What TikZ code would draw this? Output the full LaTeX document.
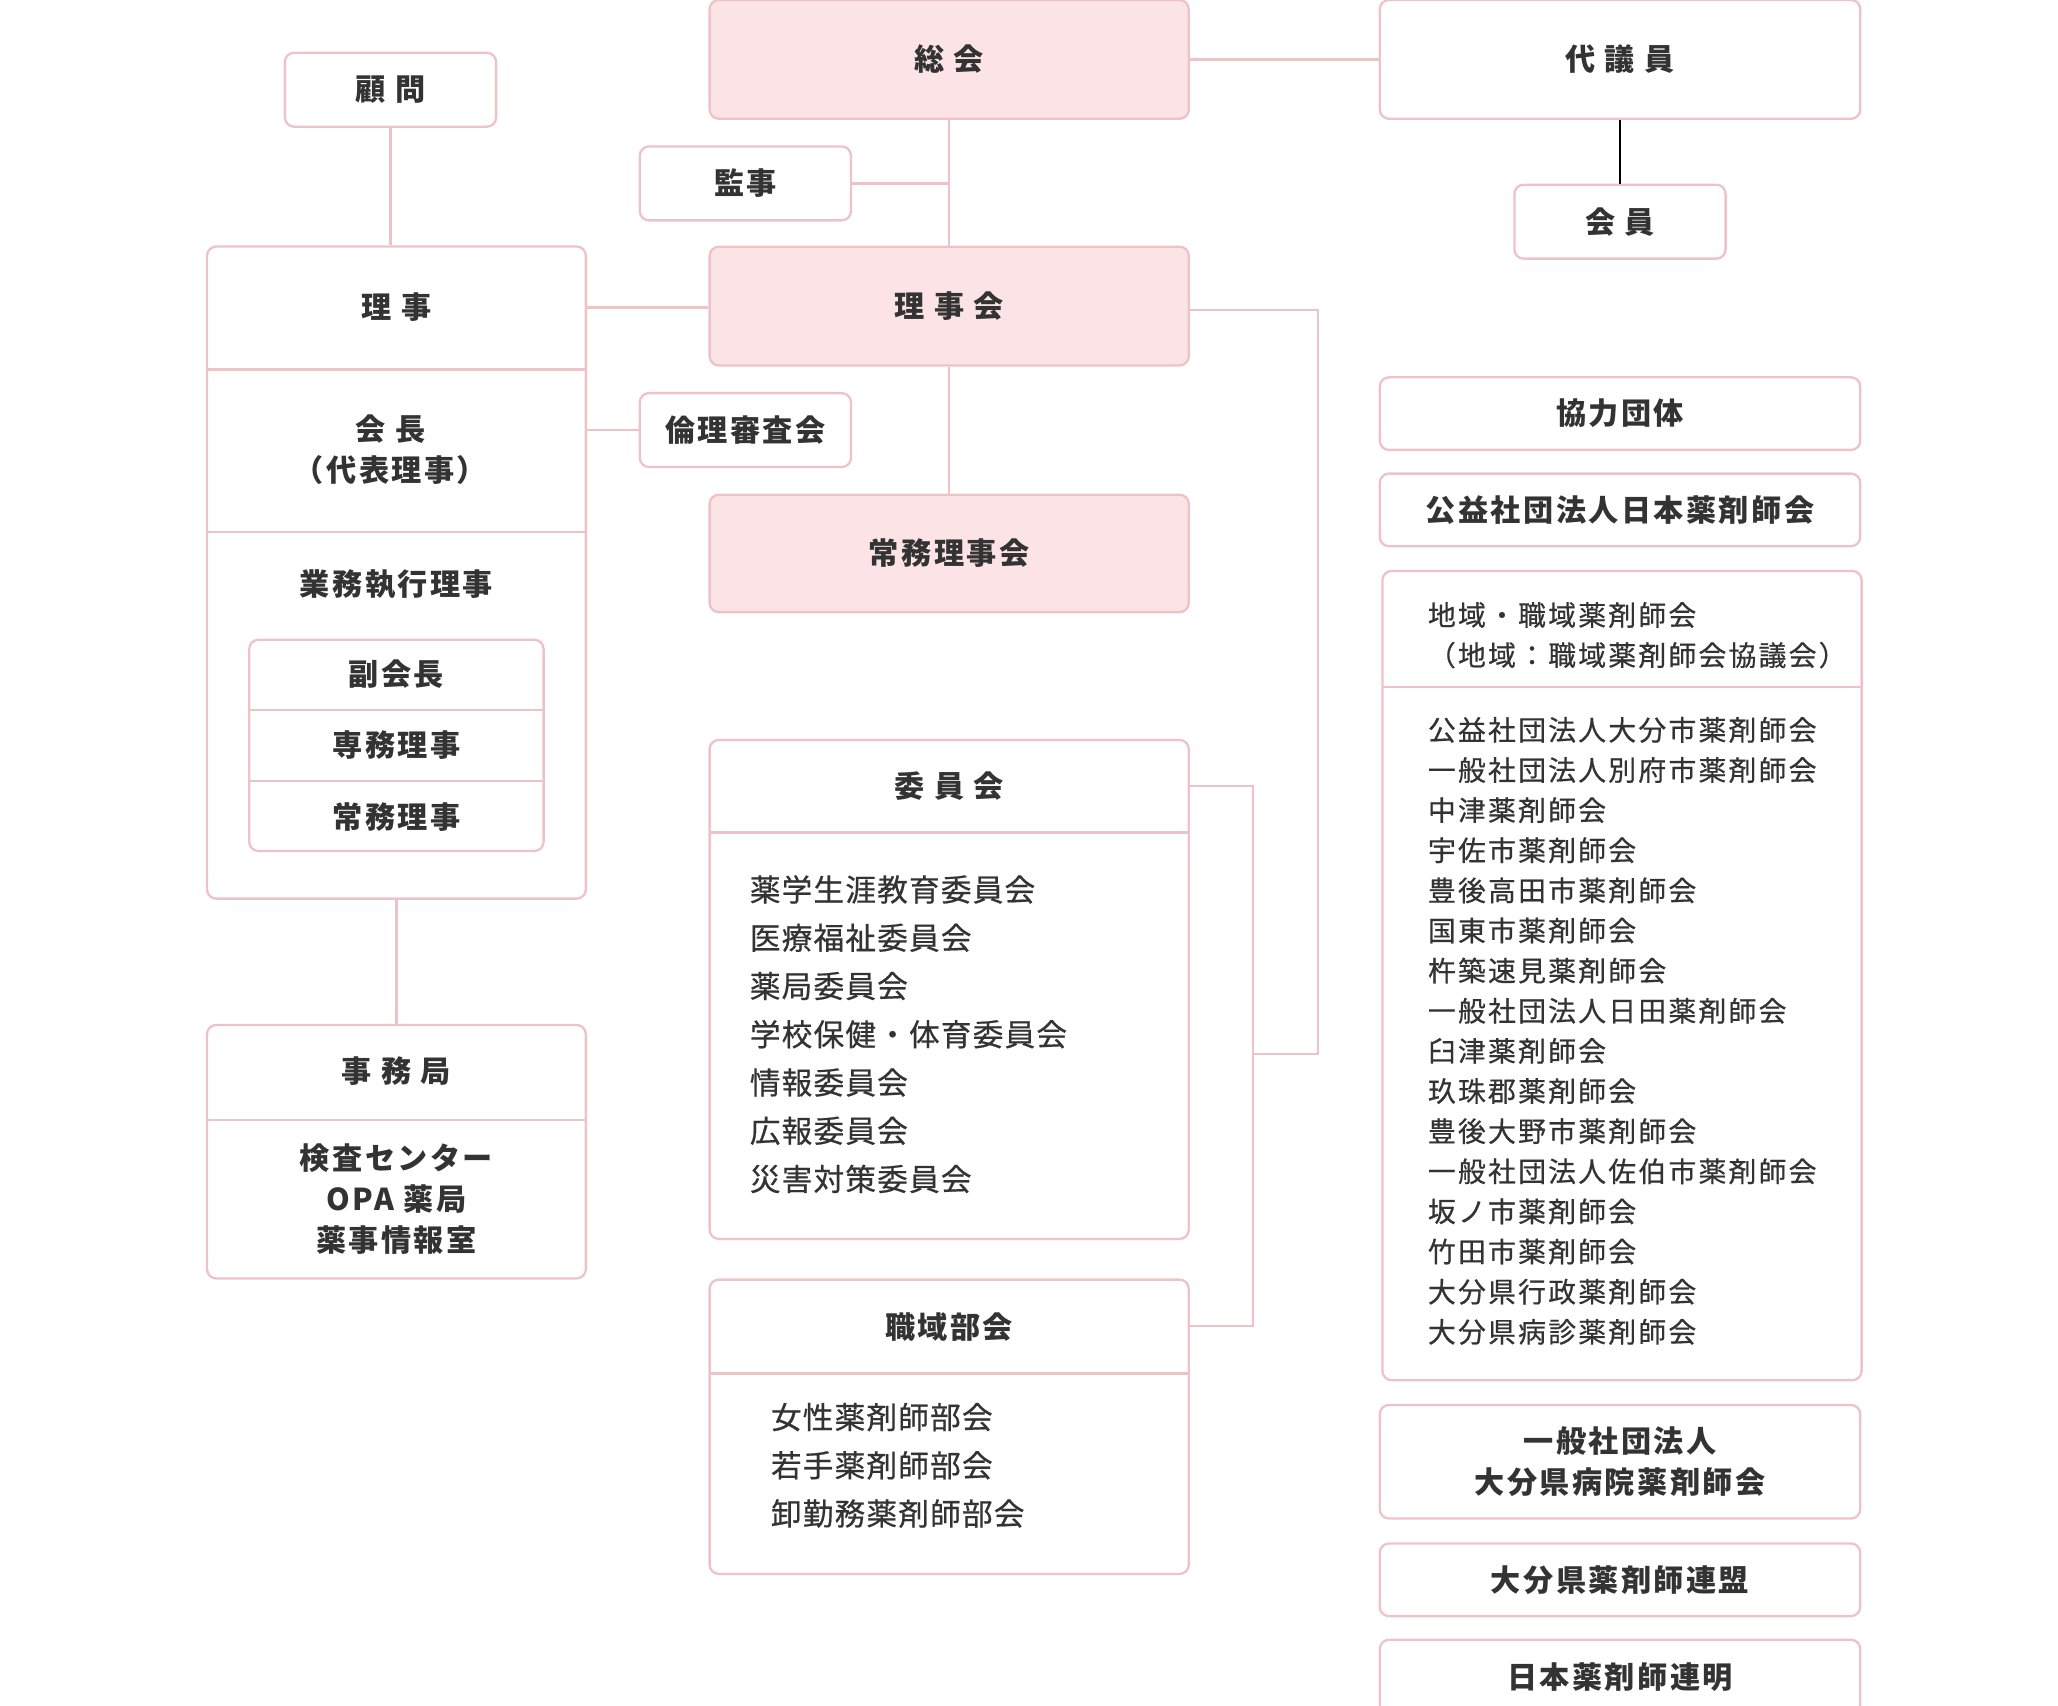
\documentclass[tikz,border=0pt]{standalone}
\usepackage{fontspec}
\setmainfont{Noto Sans CJK JP}
\usetikzlibrary{positioning}
\definecolor{pinkline}{HTML}{EEC3C7}
\definecolor{pinkfill}{HTML}{FCE3E5}
\definecolor{ink}{HTML}{333333}
\tikzset{
  box/.style={rectangle, draw=pinkline, rounded corners=0.07cm, line width=0.5pt, inner sep=0pt},
  mainbox/.style={box, fill=pinkfill},
  lbl/.style={text=ink, font=\fontsize{6.5}{8.8}\selectfont\bfseries\addfontfeature{LetterSpace=8}, align=center},
  listlbl/.style={text=ink, font=\fontsize{6.6}{10.4}\selectfont\addfontfeature{LetterSpace=4,FakeBold=0.6}, align=left},
  smalllist/.style={text=ink, font=\fontsize{6.0}{8.65}\selectfont\addfontfeature{LetterSpace=8,FakeBold=0.6}, align=left},
  link/.style={draw=pinkline, line width=0.5pt},
}
\begin{document}
\begin{tikzpicture}[x=0.01cm, y=-0.01cm]
\useasboundingbox (0,0) rectangle (1560,1293);
% center column
\node[mainbox, minimum width=3.63cm, minimum height=0.9cm] (sokai) at (719.5,45) {};
\node[lbl] at (sokai) {総 会};
\node[box, minimum width=1.6cm, minimum height=0.56cm] (kanji) at (565,139) {};
\node[lbl] at (kanji) {監事};
\node[mainbox, minimum width=3.63cm, minimum height=0.9cm] (rijikai) at (719.5,232) {};
\node[lbl] at (rijikai) {理 事 会};
\node[box, minimum width=1.6cm, minimum height=0.56cm] (rinri) at (565,326) {};
\node[lbl] at (rinri) {倫理審査会};
\node[mainbox, minimum width=3.63cm, minimum height=0.89cm] (jomu) at (719.5,419.5) {};
\node[lbl] at (jomu) {常務理事会};
\node[box, minimum width=3.63cm, minimum height=3.78cm] (iinkai) at (719.5,750) {};
\node[lbl] at (719.5,596) {委 員 会};
\node[listlbl, anchor=north west] at (556,651) {薬学生涯教育委員会\\医療福祉委員会\\薬局委員会\\学校保健・体育委員会\\情報委員会\\広報委員会\\災害対策委員会};
\node[box, minimum width=3.63cm, minimum height=2.23cm] (shokuiki) at (719.5,1081.5) {};
\node[lbl] at (719.5,1006) {職域部会};
\node[listlbl, anchor=north west] at (572,1051) {女性薬剤師部会\\若手薬剤師部会\\卸勤務薬剤師部会};
\draw[link] (538,631) -- (901,631);
\draw[link] (538,1041) -- (901,1041);
% left column
\node[box, minimum width=1.6cm, minimum height=0.56cm] (komon) at (296,68) {};
\node[lbl] at (komon) {顧 問};
\node[box, minimum width=2.87cm, minimum height=4.94cm] (rijibox) at (300.5,434) {};
\node[lbl] (riji) at (300.5,233) {理 事};
\node[lbl] at (296,341) {会 長\\（代表理事）};
\node[lbl] at (300.5,443) {業務執行理事};
\node[box, minimum width=2.23cm, minimum height=1.6cm] (fuku) at (300.5,565) {};
\node[lbl] at (300.5,511) {副会長};
\node[lbl] at (300.5,565) {専務理事};
\node[lbl] at (300.5,619) {常務理事};
\draw[link] (157,280) -- (444,280);
\draw[link] (157,403) -- (444,403);
\draw[link] (189,538) -- (412,538);
\draw[link] (189,592) -- (412,592);
\node[box, minimum width=2.87cm, minimum height=1.92cm] (jimukyoku) at (300.5,873) {};
\node[lbl] at (300.5,812) {事 務 局};
\node[lbl] at (300.5,909) {検査センター\\OPA 薬局\\薬事情報室};
\draw[link] (157,849) -- (444,849);
% right column
\node[box, minimum width=3.64cm, minimum height=0.9cm] (daigiin) at (1228,45) {};
\node[lbl] at (daigiin) {代 議 員};
\node[box, minimum width=1.6cm, minimum height=0.56cm] (kaiin) at (1228,168) {};
\node[lbl] at (kaiin) {会 員};
\node[box, minimum width=3.64cm, minimum height=0.55cm] (kyoryoku) at (1228,313.5) {};
\node[lbl] at (kyoryoku) {協力団体};
\node[box, minimum width=3.64cm, minimum height=0.55cm] (nichiyaku) at (1228,386.5) {};
\node[lbl] at (nichiyaku) {公益社団法人日本薬剤師会};
\node[box, minimum width=3.63cm, minimum height=6.13cm] (chiiki) at (1229.5,739.5) {};
\node[smalllist, anchor=north west] at (1070,444) {地域・職域薬剤師会\\（地域：職域薬剤師会協議会）};
\node[smalllist, anchor=north west] at (1070,531) {公益社団法人大分市薬剤師会\\一般社団法人別府市薬剤師会\\中津薬剤師会\\宇佐市薬剤師会\\豊後高田市薬剤師会\\国東市薬剤師会\\杵築速見薬剤師会\\一般社団法人日田薬剤師会\\臼津薬剤師会\\玖珠郡薬剤師会\\豊後大野市薬剤師会\\一般社団法人佐伯市薬剤師会\\坂ノ市薬剤師会\\竹田市薬剤師会\\大分県行政薬剤師会\\大分県病診薬剤師会};
\draw[link] (1048,521) -- (1411,521);
\node[box, minimum width=3.64cm, minimum height=0.86cm] (byoin) at (1228,1108) {};
\node[lbl] at (byoin) {一般社団法人\\大分県病院薬剤師会};
\node[box, minimum width=3.64cm, minimum height=0.55cm] (renmei) at (1228,1197.5) {};
\node[lbl] at (renmei) {大分県薬剤師連盟};
\node[box, minimum width=3.64cm, minimum height=0.56cm] (nichirenmei) at (1228,1271) {};
\node[lbl] at (nichirenmei) {日本薬剤師連明};
% connectors
\coordinate (kj) at (719,139);
\coordinate (rn) at (444,326);
\coordinate (ra) at (999,235);
\coordinate (rb) at (999,799);
\coordinate (rc) at (950,799);
\coordinate (ia) at (950,596);
\coordinate (ib) at (950,1005);
\draw[link] (sokai) -- (daigiin);
\draw[black, line width=0.6pt] (daigiin) -- (kaiin);
\draw[link] (sokai) -- (rijikai);
\draw[link] (kanji.east) -- (kj);
\draw[link] (komon) -- (rijibox.north -| komon);
\draw[link] (rijibox.east |- riji) -- (rijikai.west |- riji);
\draw[link] (rinri.west) -- (rn);
\draw[link] (rijikai) -- (jomu);
\draw[link] (rijikai.east |- ra) -- (ra) -- (rb) -- (rc);
\draw[link] (iinkai.east |- ia) -- (ia) -- (ib) -- (shokuiki.east |- ib);
\draw[link] (rijibox) -- (jimukyoku);
\end{tikzpicture}
\end{document}
